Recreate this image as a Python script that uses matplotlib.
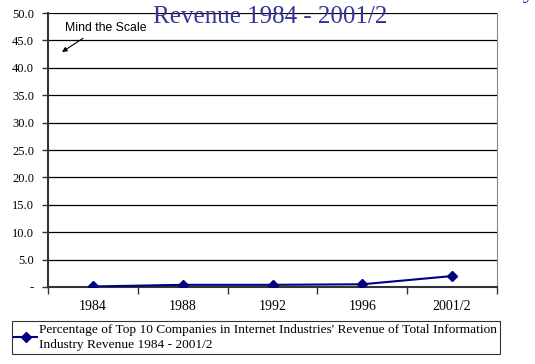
import numpy as np
import matplotlib.pyplot as plt

years = ['1984', '1988', '1992', '1996', '2001/2']
pct_top10 = [0.1, 0.4, 0.4, 0.5, 2.0]
yticks = [0, 5, 10, 15, 20, 25, 30, 35, 40, 45, 50]
ytick_labels = ['-', '5.0', '10.0', '15.0', '20.0', '25.0', '30.0', '35.0', '40.0', '45.0', '50.0']
series_label = ("Percentage of Top 10 Companies in Internet Industries' Revenue of Total Information\n"
                "Industry Revenue 1984 - 2001/2")

serif = 'Liberation Serif'
navy = '#000080'

fig = plt.figure(figsize=(5.35, 3.64), dpi=100)
ax = fig.add_axes([0.0897, 0.2115, 0.8393, 0.7525])

x = np.arange(len(years))
line, = ax.plot(x, pct_top10, color=navy, lw=1.5, marker='D', markersize=5,
                label=series_label, zorder=3)

ax.set_xlim(-0.5, len(years) - 0.5)
ax.set_ylim(0, 50)

# horizontal gridlines
for v in yticks[1:]:
    ax.axhline(v, color='black', lw=0.9, zorder=1)

ax.set_yticks(yticks)
ax.set_yticklabels(ytick_labels, fontfamily=serif, fontsize=9)

# category ticks sit between labels
ax.set_xticks(np.arange(-0.5, len(years)), minor=False)
ax.set_xticklabels([''] * (len(years) + 1))
ax.set_xticks(x, minor=True)
ax.set_xticklabels(years, minor=True, fontfamily=serif, fontsize=10)
ax.tick_params(axis='x', which='minor', length=0, pad=9)
ax.tick_params(axis='x', which='major', length=5, width=1, color='#333333')
ax.tick_params(axis='y', length=4, width=1, color='#333333', pad=6)

ax.spines['top'].set_visible(False)
ax.spines['left'].set_color('#333333')
ax.spines['left'].set_linewidth(1.5)
ax.spines['right'].set_color('#888888')
ax.spines['bottom'].set_color('#333333')
ax.spines['bottom'].set_linewidth(1.5)

# note with an arrow pointing at the axis scale
ax.text(-0.311, 47.3, 'Mind the Scale', fontsize=8.8, fontfamily='Liberation Sans',
        ha='left', va='center')
ax.annotate('', xy=(-0.344, 42.9), xytext=(-0.11, 45.4),
            arrowprops=dict(arrowstyle='-|>', color='black', lw=0.8,
                            mutation_scale=7, shrinkA=0, shrinkB=0))

fig.text(0.505, 0.952, 'Revenue 1984 - 2001/2', fontfamily=serif, fontsize=18,
         color='#333399', ha='center', va='center')
fig.text(1.0, 1.006, 'Industry', fontfamily=serif, fontsize=18,
         color='#333399', ha='right', va='baseline')

leg = fig.legend(handles=[line], loc='lower left', bbox_to_anchor=(0.022, 0.028),
                 prop={'family': serif, 'size': 9.6}, frameon=True, fancybox=False,
                 borderpad=0.2, handlelength=1.7, handletextpad=0.15,
                 borderaxespad=0)
leg.get_frame().set_edgecolor('black')
leg.get_frame().set_linewidth(0.8)
for t in leg.get_texts():
    t.set_linespacing(1.35)

fig.savefig('out.png', dpi=100)
